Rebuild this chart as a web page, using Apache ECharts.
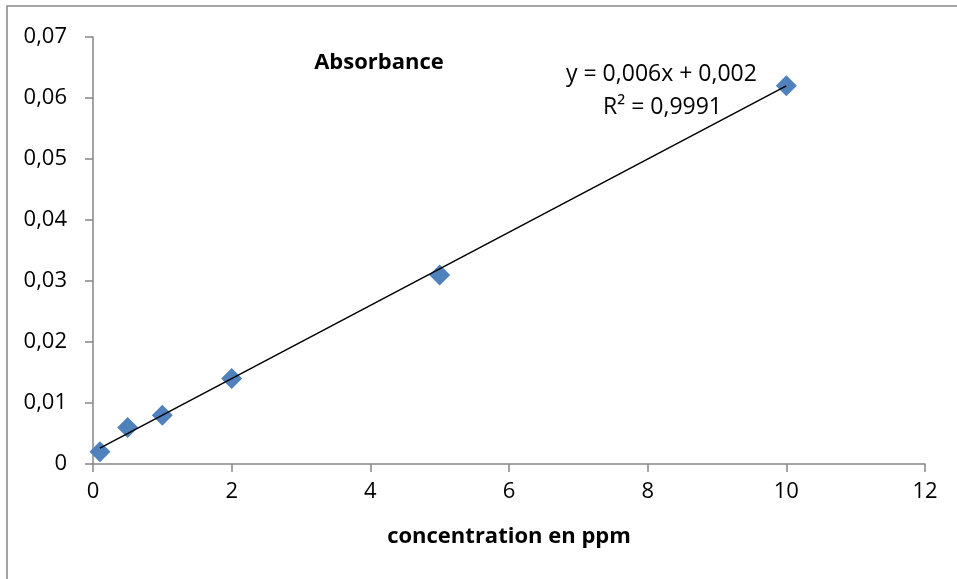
<!DOCTYPE html>
<html>
<head>
<meta charset="utf-8">
<script src="https://cdn.jsdelivr.net/npm/echarts@6/dist/echarts.min.js"></script>
<style>
  html, body { margin: 0; padding: 0; background: #fff; }
  #chart { width: 957px; height: 579px; }
</style>
</head>
<body>
<div id="chart"></div>
<script>
// Calibration data: concentration (ppm) vs absorbance
const concentration = [0.1, 0.5, 1, 2, 5, 10];
const absorbance = [0.002, 0.006, 0.008, 0.014, 0.031, 0.062];

// Linear trendline as reported in the equation label
const trendSlope = 0.006;
const trendIntercept = 0.002;
const equationText = 'y = 0,006x + 0,002';
const r2Text = 'R² = 0,9991';

const xTicks = { min: 0, max: 12, interval: 2 };
const yTicks = { min: 0, max: 0.07, interval: 0.01 };

const FONT = '"Open Sans", sans-serif';
const points = concentration.map((x, i) => [x, absorbance[i]]);
const xMinData = Math.min(...concentration);
const xMaxData = Math.max(...concentration);
const trendLine = [xMinData, xMaxData].map(x => [x, trendSlope * x + trendIntercept]);

const comma = v => String(+v.toFixed(4)).replace('.', ',');

const chart = echarts.init(document.getElementById('chart'), null, { renderer: 'canvas' });
chart.setOption({
  animation: false,
  backgroundColor: '#fff',
  grid: { left: 93, right: 32, top: 37, bottom: 115, containLabel: false },
  title: {
    text: 'Absorbance',
    left: 374, top: 47, textAlign: 'center',
    textStyle: { fontFamily: FONT, fontWeight: 'bold', fontSize: 22, color: '#000' }
  },
  xAxis: {
    type: 'value',
    min: xTicks.min, max: xTicks.max, interval: xTicks.interval,
    name: 'concentration en ppm',
    nameLocation: 'middle', nameGap: 62,
    nameTextStyle: { fontFamily: FONT, fontWeight: 'bold', fontSize: 22, color: '#000' },
    axisLine: { show: true, onZero: false, lineStyle: { color: '#868686', width: 1.5 } },
    axisTick: { show: true, length: 8, inside: false, lineStyle: { color: '#868686', width: 1.5 } },
    axisLabel: { margin: 17, fontFamily: FONT, fontSize: 22, color: '#000', formatter: comma },
    splitLine: { show: false }
  },
  yAxis: {
    type: 'value',
    min: yTicks.min, max: yTicks.max, interval: yTicks.interval,
    axisLine: { show: true, onZero: false, lineStyle: { color: '#868686', width: 1.5 } },
    axisTick: { show: true, length: 8, inside: false, lineStyle: { color: '#868686', width: 1.5 } },
    axisLabel: { margin: 26, fontFamily: FONT, fontSize: 22, color: '#000', formatter: comma },
    splitLine: { show: false }
  },
  graphic: [
    {
      type: 'rect', silent: true, z: -1,
      shape: { x: 7, y: 6, width: 2000, height: 2000 },
      style: { fill: 'none', stroke: '#888888', lineWidth: 1.5 }
    },
    {
      type: 'text', left: 566, top: 63,
      style: { text: equationText, fontFamily: FONT, fontSize: 23, fill: '#000' }
    },
    {
      type: 'text', left: 603, top: 96,
      style: { text: r2Text, fontFamily: FONT, fontSize: 23, fill: '#000' }
    }
  ],
  series: [
    {
      name: 'Absorbance',
      type: 'scatter',
      data: points,
      symbol: 'diamond',
      symbolSize: [21, 21],
      itemStyle: { color: '#4F81BD', opacity: 1 },
      z: 2
    },
    {
      name: 'Trendline',
      type: 'line',
      data: trendLine,
      showSymbol: false,
      symbol: 'none',
      lineStyle: { color: '#000', width: 1.5 },
      z: 3
    }
  ]
});
</script>
</body>
</html>
